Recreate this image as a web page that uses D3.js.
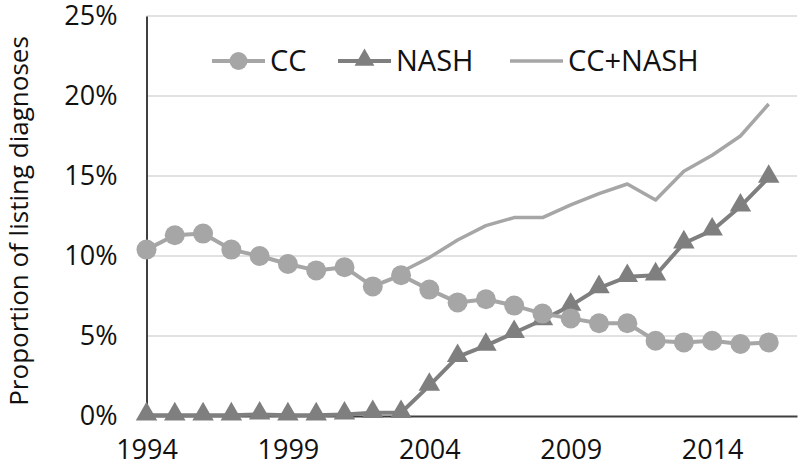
<!DOCTYPE html>
<html><head><meta charset="utf-8">
<script src="https://cdn.jsdelivr.net/npm/d3@7"></script>
<style>body{margin:0;background:#fff}svg{display:block}text{font-family:"Open Sans",sans-serif;fill:#111}</style>
</head><body><svg id="c" width="800" height="470"></svg>
<script>
const years = d3.range(1994, 2017);
const cc = [10.4, 11.3, 11.4, 10.4, 10.0, 9.5, 9.1, 9.3, 8.1, 8.8, 7.9, 7.1, 7.3, 6.9, 6.4, 6.1, 5.8, 5.8, 4.7, 4.6, 4.7, 4.5, 4.6];
const nash = [0.05, 0.05, 0.05, 0.05, 0.1, 0.05, 0.05, 0.1, 0.2, 0.2, 1.9, 3.7, 4.4, 5.2, 6.0, 6.9, 8.0, 8.7, 8.8, 10.8, 11.6, 13.1, 14.9];
const ccNash = [null, null, null, null, null, null, null, null, null, 9.0, 9.9, 11.0, 11.9, 12.4, 12.4, 13.2, 13.9, 14.5, 13.5, 15.3, 16.3, 17.5, 19.5];
const yTicks = [0, 5, 10, 15, 20, 25];
const xTicks = [1994, 1999, 2004, 2009, 2014];
const seriesNames = ["CC", "NASH", "CC+NASH"];

const svg = d3.select("#c");
const x = d3.scaleLinear().domain([1994, 2017]).range([146.5, 797]);
const y = d3.scaleLinear().domain([0, 25]).range([416, 16]);

// gridlines
svg.append("g").selectAll("line").data(yTicks.filter(t => t > 0)).join("line")
  .attr("x1", x(1994)).attr("x2", x(2017)).attr("y1", d => y(d)).attr("y2", d => y(d))
  .attr("stroke", "#d9d9d9").attr("stroke-width", 1.5);

// y axis
const ya = svg.append("g").attr("transform", `translate(${x(1994)},0)`)
  .call(d3.axisLeft(y).tickValues(yTicks).tickFormat(d => d + "%").tickSize(0).tickPadding(29));
ya.select(".domain").attr("stroke", "#404040").attr("stroke-width", 2);
ya.selectAll("text").style("font-size", "27px").style("font-family", "'Open Sans',sans-serif").attr("fill", "#111");

// x axis
const xa = svg.append("g").attr("transform", `translate(0,${y(0)})`)
  .call(d3.axisBottom(x).tickValues(xTicks).tickFormat(d3.format("d")).tickSize(0).tickPadding(24));
xa.select(".domain").attr("stroke", "#404040").attr("stroke-width", 2);
xa.selectAll("text").style("font-size", "27px").style("font-family", "'Open Sans',sans-serif").attr("fill", "#111");

// axis title
svg.append("text").attr("transform", `translate(28,221) rotate(-90)`)
  .attr("text-anchor", "middle").style("font-size", "26px").text("Proportion of listing diagnoses");

const line = arr => d3.line().defined((d, i) => arr[i] != null)
  .x((d, i) => x(years[i])).y((d, i) => y(arr[i]))(years);

// CC+NASH line
svg.append("path").attr("d", line(ccNash)).attr("fill", "none")
  .attr("stroke", "#a6a6a6").attr("stroke-width", 3.5).attr("stroke-linejoin", "round");

// NASH
svg.append("path").attr("d", line(nash)).attr("fill", "none")
  .attr("stroke", "#7f7f7f").attr("stroke-width", 4).attr("stroke-linejoin", "round");
const tri = d3.symbol().type(d3.symbolTriangle).size(200);
svg.append("g").selectAll("path").data(years).join("path")
  .attr("d", tri).attr("transform", (d, i) => `translate(${x(d)},${y(nash[i]) - 1})`)
  .attr("fill", "#7f7f7f");

// CC
svg.append("path").attr("d", line(cc)).attr("fill", "none")
  .attr("stroke", "#a6a6a6").attr("stroke-width", 4).attr("stroke-linejoin", "round");
svg.append("g").selectAll("circle").data(years).join("circle")
  .attr("cx", d => x(d)).attr("cy", (d, i) => y(cc[i])).attr("r", 10)
  .attr("fill", "#a6a6a6");

// legend
const lg = svg.append("g");
const legendItems = [
  {name: seriesNames[0], x0: 212, color: "#a6a6a6", mark: "circle"},
  {name: seriesNames[1], x0: 338, color: "#7f7f7f", mark: "tri"},
  {name: seriesNames[2], x0: 510, color: "#a6a6a6", mark: null}
];
const ly = 61;
legendItems.forEach(it => {
  lg.append("line").attr("x1", it.x0).attr("x2", it.x0 + 53).attr("y1", ly).attr("y2", ly)
    .attr("stroke", it.color).attr("stroke-width", it.mark ? 4 : 3.5);
  if (it.mark === "circle") lg.append("circle").attr("cx", it.x0 + 26.5).attr("cy", ly).attr("r", 9).attr("fill", it.color);
  if (it.mark === "tri") lg.append("path").attr("d", d3.symbol().type(d3.symbolTriangle).size(170)).attr("transform", `translate(${it.x0 + 26.5},${ly - 1})`).attr("fill", it.color);
  lg.append("text").attr("x", it.x0 + 58).attr("y", ly + 10).style("font-size", "29px").text(it.name);
});
</script></body></html>
